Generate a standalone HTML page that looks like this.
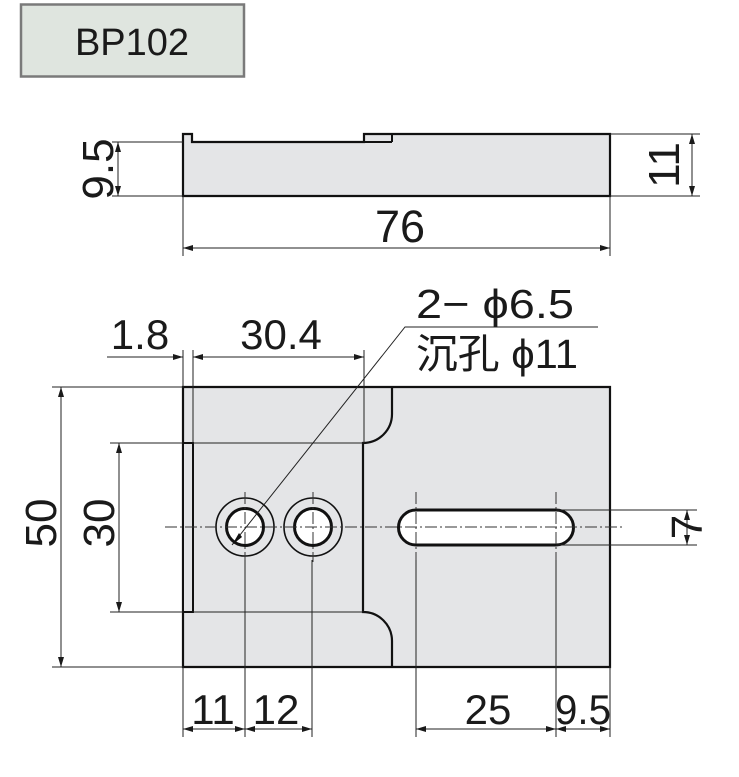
<!DOCTYPE html>
<html><head><meta charset="utf-8"><style>
html,body{margin:0;padding:0;background:#fff;}
svg{display:block;}
text{font-family:"Liberation Sans","Noto Sans CJK SC",sans-serif;fill:#1a1a1a;}
</style></head><body>
<svg width="739" height="777" viewBox="0 0 739 777" xmlns="http://www.w3.org/2000/svg">
<defs>
<marker id="a" viewBox="0 0 10 6" refX="10" refY="3" markerWidth="10" markerHeight="6" orient="auto-start-reverse" markerUnits="userSpaceOnUse"><path d="M0,0 L10,3 L0,6 z" fill="#1a1a1a"/></marker>
</defs>
<rect x="21" y="4.5" width="223" height="72" fill="#dfe5df" stroke="#7a7a7a" stroke-width="2.5"/>
<text x="132" y="55" font-size="38" text-anchor="middle">BP102</text>

<path d="M183,196 L183,134 L192,134 L192,142 L364,142 L364,134 L610,134 L610,196 Z" fill="#e4e5e7" stroke="#111" stroke-width="2.2"/>
<line x1="364" y1="142" x2="392" y2="142" stroke="#111" stroke-width="2"/>
<line x1="392" y1="134" x2="392" y2="142" stroke="#111" stroke-width="2"/>
<g stroke="#222" stroke-width="1" fill="none">
<line x1="112" y1="142" x2="183" y2="142"/><line x1="112" y1="196" x2="183" y2="196"/>
<line x1="118" y1="142" x2="118" y2="196" marker-start="url(#a)" marker-end="url(#a)"/>
<line x1="610" y1="134" x2="700" y2="134"/><line x1="610" y1="196" x2="700" y2="196"/>
<line x1="692" y1="134" x2="692" y2="196" marker-start="url(#a)" marker-end="url(#a)"/>
<line x1="183" y1="196" x2="183" y2="256"/><line x1="610" y1="196" x2="610" y2="256"/>
<line x1="183" y1="248" x2="610" y2="248" marker-start="url(#a)" marker-end="url(#a)"/>
</g>
<text x="400" y="242" font-size="45" text-anchor="middle">76</text>
<text transform="translate(113,169) rotate(-90)" font-size="44" text-anchor="middle">9.5</text>
<text transform="translate(679,165) rotate(-90)" font-size="44" text-anchor="middle">11</text>

<path d="M183,387 L610,387 L610,667 L183,667 Z" fill="#e4e5e7" stroke="#111" stroke-width="2.2"/>
<path d="M392,387 L392,414 A29,29 0 0 1 363,443 L363,612 A29,29 0 0 1 392,641 L392,667" fill="none" stroke="#111" stroke-width="2.2"/>
<rect x="183" y="443" width="10" height="169" fill="#e4e5e7" stroke="#111" stroke-width="2"/>
<g stroke="#222" stroke-width="1" fill="none">
<line x1="193" y1="443" x2="363" y2="443"/><line x1="193" y1="612" x2="363" y2="612"/>
</g>
<g fill="none" stroke="#111">
<circle cx="245" cy="527" r="29" stroke-width="1.6"/>
<circle cx="245" cy="527" r="18.5" fill="#fff" stroke-width="3"/>
<circle cx="313" cy="527" r="29" stroke-width="1.6"/>
<circle cx="313" cy="527" r="18.5" fill="#fff" stroke-width="3"/>
<path d="M416,510 L556,510 A17.5,17.5 0 0 1 556,545 L416,545 A17.5,17.5 0 0 1 416,510 Z" fill="#fff" stroke-width="3"/>
</g>
<g stroke="#333" stroke-width="1" stroke-dasharray="12,3,2,3" fill="none">
<line x1="165" y1="527" x2="625" y2="527"/>
<line x1="245" y1="492" x2="245" y2="562"/>
<line x1="313" y1="492" x2="313" y2="562"/>
<line x1="416" y1="492" x2="416" y2="562"/>
<line x1="556" y1="492" x2="556" y2="562"/>
</g>
<polyline points="232,545 405,327 598,327" fill="none" stroke="#222" stroke-width="1"/>
<path d="M232,545 L239,533 L242,537 Z" fill="#111"/>
<text x="416" y="318" font-size="41" textLength="158" lengthAdjust="spacingAndGlyphs">2− ϕ6.5</text>
<text x="416" y="368" font-size="41" textLength="162" lengthAdjust="spacingAndGlyphs">沉孔 ϕ11</text>

<g stroke="#222" stroke-width="1" fill="none">
<line x1="183" y1="350" x2="183" y2="387"/><line x1="193" y1="350" x2="193" y2="443"/>
<line x1="364" y1="350" x2="364" y2="443"/>
<line x1="107" y1="357" x2="183" y2="357" marker-end="url(#a)"/>
<line x1="193" y1="357" x2="364" y2="357" marker-start="url(#a)" marker-end="url(#a)"/>
<line x1="52" y1="387" x2="183" y2="387"/><line x1="52" y1="667" x2="183" y2="667"/>
<line x1="110" y1="443" x2="183" y2="443"/><line x1="110" y1="612" x2="183" y2="612"/>
<line x1="61" y1="387" x2="61" y2="667" marker-start="url(#a)" marker-end="url(#a)"/>
<line x1="119" y1="443" x2="119" y2="612" marker-start="url(#a)" marker-end="url(#a)"/>
<line x1="556" y1="510" x2="697" y2="510"/><line x1="556" y1="545" x2="697" y2="545"/>
<line x1="687" y1="510" x2="687" y2="545" marker-start="url(#a)" marker-end="url(#a)"/>
<line x1="183" y1="667" x2="183" y2="737"/><line x1="245" y1="560" x2="245" y2="737"/>
<line x1="312" y1="560" x2="312" y2="737"/><line x1="416" y1="560" x2="416" y2="737"/>
<line x1="556" y1="560" x2="556" y2="737"/><line x1="610" y1="667" x2="610" y2="737"/>
<line x1="183" y1="729" x2="245" y2="729" marker-start="url(#a)" marker-end="url(#a)"/>
<line x1="245" y1="729" x2="312" y2="729" marker-start="url(#a)" marker-end="url(#a)"/>
<line x1="416" y1="729" x2="556" y2="729" marker-start="url(#a)" marker-end="url(#a)"/>
<line x1="556" y1="729" x2="610" y2="729" marker-start="url(#a)" marker-end="url(#a)"/>
</g>
<text x="140" y="349" font-size="42" text-anchor="middle">1.8</text>
<text x="281" y="349" font-size="42" text-anchor="middle">30.4</text>
<text transform="translate(56,523) rotate(-90)" font-size="44" text-anchor="middle">50</text>
<text transform="translate(114,523) rotate(-90)" font-size="44" text-anchor="middle">30</text>
<text transform="translate(702,527) rotate(-90)" font-size="44" text-anchor="middle">7</text>
<text x="213" y="724" font-size="42" text-anchor="middle">11</text>
<text x="276" y="724" font-size="42" text-anchor="middle">12</text>
<text x="488" y="724" font-size="42" text-anchor="middle">25</text>
<text x="583" y="724" font-size="42" text-anchor="middle" textLength="56" lengthAdjust="spacingAndGlyphs">9.5</text>
</svg>
</body></html>
